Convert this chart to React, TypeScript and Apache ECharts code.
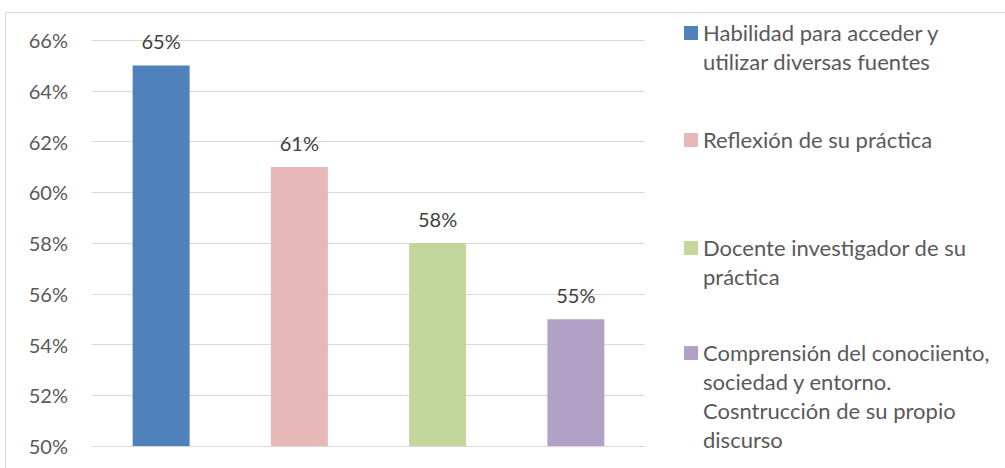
import React, { useEffect, useRef } from "react";
import * as echarts from "echarts";

const categories = ["A", "B", "C", "D"];
const seriesNames = [
  "Habilidad para acceder y utilizar diversas fuentes",
  "Reflexión de su práctica",
  "Docente investigador de su práctica",
  "Comprensión del conociiento, sociedad y entorno. Cosntrucción de su propio discurso",
];
const legendLines = [
  ["Habilidad para acceder y", "utilizar diversas fuentes"],
  ["Reflexión de su práctica"],
  ["Docente investigador de su", "práctica"],
  ["Comprensión del conociiento,", "sociedad y entorno.", "Cosntrucción de su propio", "discurso"],
];
const values = [65, 61, 58, 55];
const colors = ["#4f81bd", "#e6b9b8", "#c3d69b", "#b2a1c7"];
const yMin = 50;
const yMax = 66;
const yStep = 2;

const FONT = "Lato";
const LH = 29;
const legendTops = [18, 125, 233, 338];

export default function App() {
  const ref = useRef<HTMLDivElement>(null);
  useEffect(() => {
    if (!ref.current) return;
    const chart = echarts.init(ref.current, null, { renderer: "svg" });
    const series = seriesNames.map((name, i) => ({
      name,
      type: "bar",
      stack: "all",
      barWidth: 57,
      data: categories.map((_, j) => (j === i ? values[i] : null)),
      itemStyle: { color: colors[i] },
      label: {
        show: true,
        position: "top",
        distance: 14,
        formatter: "{c}%",
        color: "#404040",
        fontFamily: FONT,
        fontSize: 20,
      },
    }));
    const legends = seriesNames.map((name, i) => {
      const n = legendLines[i].length;
      const H = n * LH;
      return {
        data: [name],
        left: 684,
        top: legendTops[i],
        padding: 0,
        itemWidth: 14,
        itemHeight: H,
        itemGap: 0,
        selectedMode: false,
        icon: `path://M0,0L14,0M0,8L14,8L14,22L0,22ZM0,${H}L14,${H}`,
        formatter: () => legendLines[i].join("\n"),
        textStyle: {
          color: "#595959",
          fontFamily: FONT,
          fontSize: 22,
          lineHeight: LH,
        },
      };
    });
    chart.setOption({
      animation: false,
      backgroundColor: "#ffffff",
      grid: { left: 92, right: 360, top: 40, bottom: 22, containLabel: false },
      xAxis: {
        type: "category",
        data: categories,
        axisLine: { show: true, lineStyle: { color: "#d9d9d9", width: 1 } },
        axisTick: { show: false },
        axisLabel: { show: false },
      },
      yAxis: {
        type: "value",
        min: yMin,
        max: yMax,
        interval: yStep,
        axisLine: { show: false },
        axisTick: { show: false },
        splitLine: { lineStyle: { color: "#d9d9d9", width: 1 } },
        axisLabel: {
          formatter: "{value}%",
          color: "#595959",
          fontFamily: FONT,
          fontSize: 20,
          margin: 24,
        },
      },
      legend: legends,
      series,
      graphic: [
        {
          type: "rect",
          shape: { x: 5.5, y: 12.5, width: 1010, height: 470 },
          style: { fill: "none", stroke: "#d9d9d9", lineWidth: 1 },
          silent: true,
          z: -1,
        },
      ],
    });
    return () => chart.dispose();
  }, []);
  return (
    <div
      ref={ref}
      style={{ position: "absolute", left: 0, top: 0, width: 1005, height: 468 }}
    />
  );
}
